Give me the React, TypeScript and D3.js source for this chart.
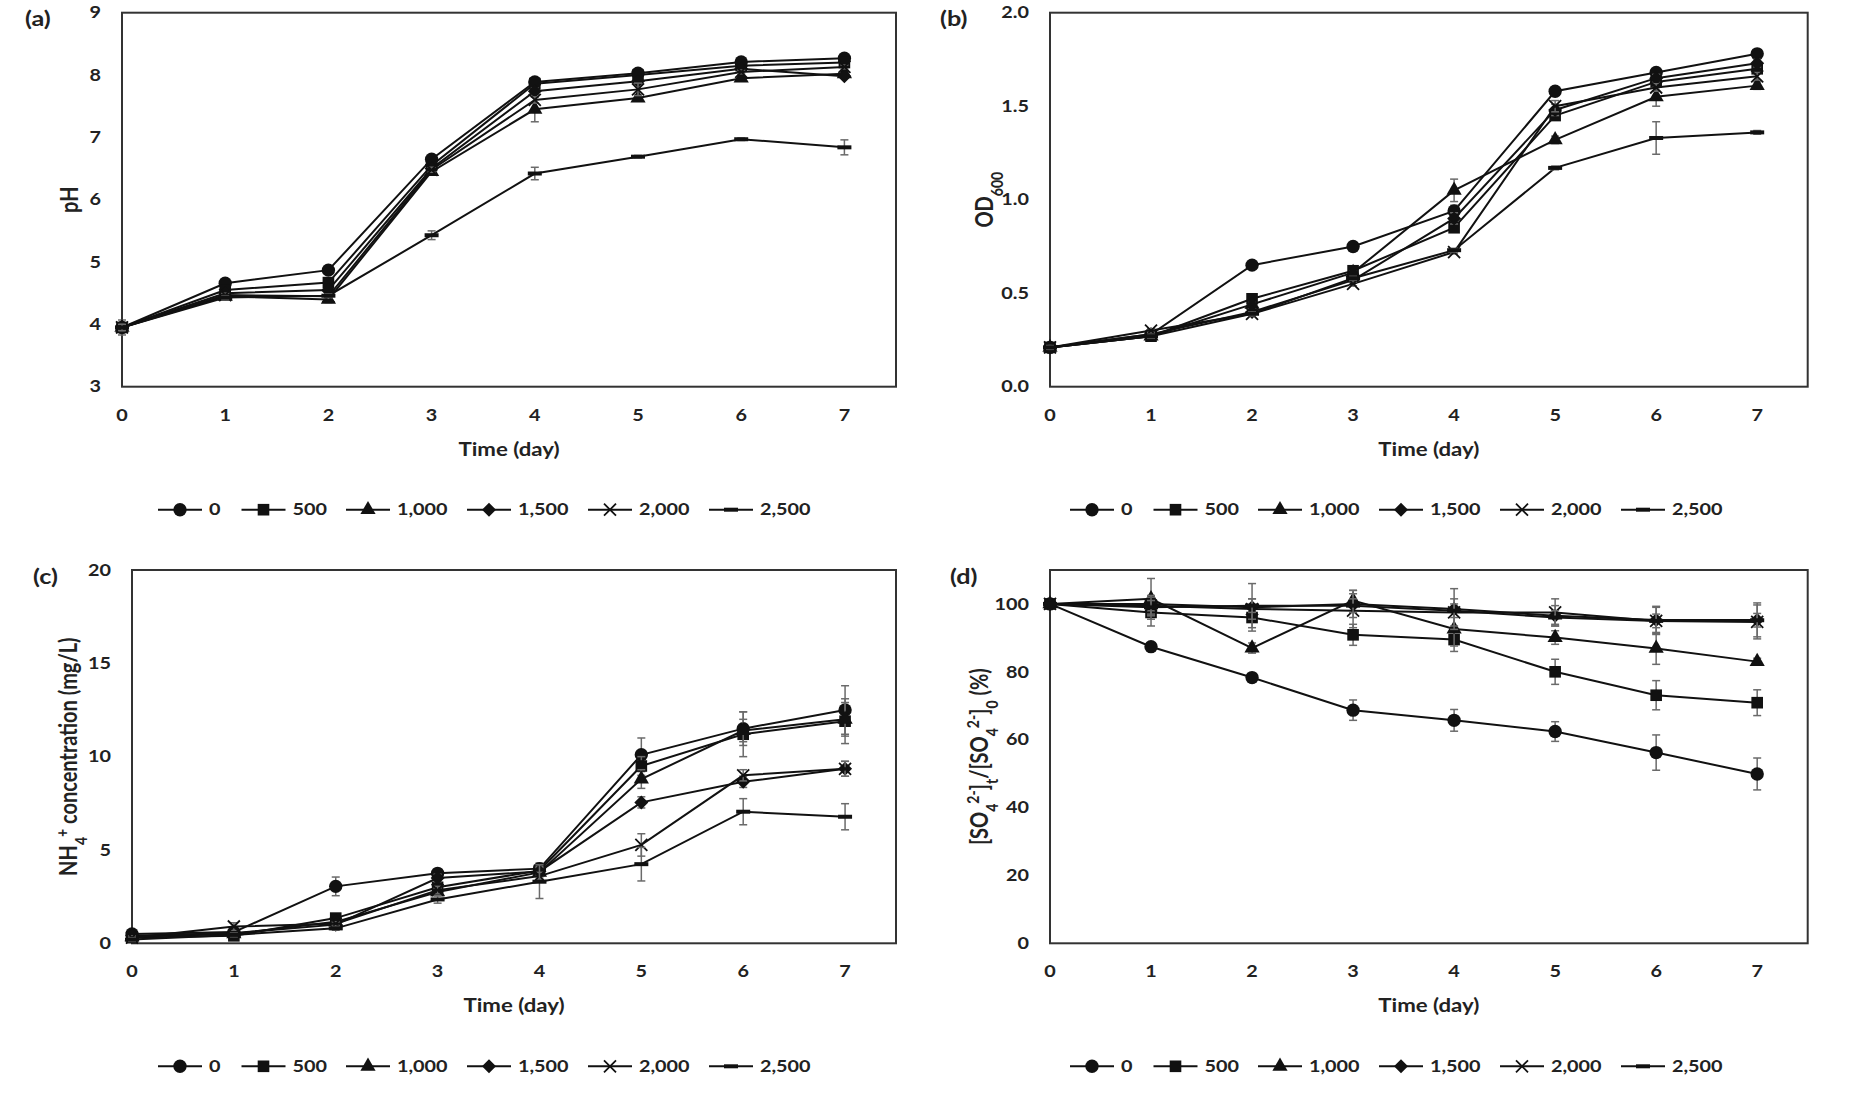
import React from 'react';
import * as d3 from 'd3';

// sampling days, shared by all four panels
const days = [0, 1, 2, 3, 4, 5, 6, 7];
const seriesNames = ['0', '500', '1,000', '1,500', '2,000', '2,500'];
const markerTypes = ['circle', 'square', 'triangle', 'diamond', 'x', 'dash'];

// (a) pH
const phValues = [
  [3.95, 4.66, 4.87, 6.65, 7.89, 8.03, 8.21, 8.27],
  [3.95, 4.55, 4.67, 6.55, 7.86, 8.0, 8.15, 8.2],
  [3.95, 4.45, 4.4, 6.45, 7.45, 7.63, 7.95, 8.02],
  [3.95, 4.5, 4.55, 6.5, 7.74, 7.9, 8.1, 7.98],
  [3.95, 4.47, 4.45, 6.48, 7.6, 7.77, 8.05, 8.13],
  [3.95, 4.43, 4.46, 5.43, 6.42, 6.69, 6.97, 6.84],
];
const phErrors = [
  [0.12, 0.03, 0.03, 0.04, 0.05, 0.03, 0.03, 0.04],
  [0.05, 0.03, 0.03, 0.04, 0.05, 0.03, 0.03, 0.03],
  [0.05, 0.03, 0.05, 0.05, 0.2, 0.05, 0.05, 0.03],
  [0.05, 0.03, 0.03, 0.04, 0.05, 0.03, 0.03, 0.03],
  [0.05, 0.03, 0.03, 0.04, 0.05, 0.1, 0.03, 0.03],
  [0.05, 0.03, 0.03, 0.07, 0.1, 0.02, 0.02, 0.12],
];

// (b) OD600
const odValues = [
  [0.21, 0.28, 0.65, 0.75, 0.94, 1.58, 1.68, 1.78],
  [0.21, 0.27, 0.47, 0.62, 0.85, 1.45, 1.63, 1.7],
  [0.21, 0.27, 0.44, 0.61, 1.05, 1.32, 1.55, 1.61],
  [0.21, 0.28, 0.4, 0.57, 0.9, 1.48, 1.65, 1.73],
  [0.21, 0.3, 0.39, 0.55, 0.72, 1.5, 1.6, 1.66],
  [0.21, 0.27, 0.39, 0.58, 0.73, 1.17, 1.33, 1.36],
];
const odErrors = [
  [0.01, 0.01, 0.01, 0.01, 0.03, 0.01, 0.02, 0.02],
  [0.01, 0.01, 0.01, 0.01, 0.02, 0.02, 0.02, 0.02],
  [0.01, 0.01, 0.01, 0.01, 0.06, 0.02, 0.05, 0.02],
  [0.01, 0.01, 0.01, 0.01, 0.03, 0.03, 0.02, 0.02],
  [0.01, 0.01, 0.01, 0.01, 0.01, 0.03, 0.02, 0.02],
  [0.01, 0.01, 0.01, 0.01, 0.01, 0.01, 0.087, 0.01],
];

// (c) NH4+ concentration, mg/L
const nhValues = [
  [0.5, 0.6, 3.05, 3.75, 4.0, 10.1, 11.5, 12.5],
  [0.3, 0.4, 1.35, 3.0, 3.9, 9.5, 11.2, 11.9],
  [0.35, 0.5, 1.15, 2.75, 3.8, 8.8, 11.4, 12.0],
  [0.4, 0.55, 1.0, 3.5, 3.85, 7.55, 8.65, 9.35],
  [0.3, 0.9, 1.05, 2.85, 3.6, 5.27, 9.0, 9.35],
  [0.2, 0.45, 0.8, 2.35, 3.3, 4.24, 7.05, 6.78],
];
const nhErrors = [
  [0.1, 0.1, 0.5, 0.2, 0.3, 0.9, 0.9, 1.3],
  [0.1, 0.1, 0.2, 0.2, 0.3, 0.5, 1.2, 1.2],
  [0.1, 0.1, 0.1, 0.2, 0.3, 0.5, 0.6, 0.9],
  [0.1, 0.1, 0.1, 0.2, 0.2, 0.3, 0.3, 0.4],
  [0.1, 0.2, 0.1, 0.2, 0.2, 0.6, 0.3, 0.4],
  [0.1, 0.1, 0.1, 0.2, 0.9, 0.9, 0.7, 0.7],
];

// (d) remaining sulfate, % of initial
const so4Values = [
  [100, 87.4, 78.3, 68.7, 65.7, 62.4, 56.2, 49.9],
  [100, 97.5, 96.0, 90.9, 89.5, 80.0, 73.1, 70.9],
  [100, 101.5, 87.0, 101.0, 92.6, 90.1, 86.9, 83.0],
  [100, 100.0, 99.0, 100.0, 98.5, 96.5, 95.3, 95.3],
  [100, 99.5, 98.5, 98.0, 97.5, 97.5, 95.0, 94.7],
  [100, 99.0, 99.5, 99.5, 98.0, 96.0, 95.0, 95.2],
];
const so4Errors = [
  [0, 1, 1, 3, 3.2, 2.9, 5.2, 4.7],
  [0, 4, 3, 3.1, 3.5, 3.7, 4.3, 3.8],
  [0, 6, 1.5, 3, 5, 2, 4.7, 1],
  [0, 2, 7, 4, 6, 3, 4, 5],
  [0, 3, 3, 5, 4, 4, 4, 5],
  [0, 2, 2, 2, 2, 2, 2, 2],
];

const phTicks = [3, 4, 5, 6, 7, 8, 9];
const odTicks = [0, 0.5, 1.0, 1.5, 2.0];
const nhTicks = [0, 5, 10, 15, 20];
const so4Ticks = [0, 20, 40, 60, 80, 100];

const FONT = 'Lato, "Open Sans", Arial, sans-serif';
const INK = '#222';
const LINE = '#111';
const STRETCH = 1.2;

const symbolGen = (type, size) => d3.symbol().type(type).size(size)();

function Marker({ type, x, y }) {
  const t = `translate(${x},${y})`;
  if (type === 'circle') return <path transform={t} d={symbolGen(d3.symbolCircle, 140)} fill={LINE} />;
  if (type === 'square') return <path transform={t} d={symbolGen(d3.symbolSquare, 135)} fill={LINE} />;
  if (type === 'triangle') return <path transform={t} d={symbolGen(d3.symbolTriangle, 100)} fill={LINE} />;
  if (type === 'diamond') return <path transform={t} d="M0,-7L7,0L0,7L-7,0Z" fill={LINE} />;
  if (type === 'x')
    return <path transform={t} d="M-6,-6L6,6M-6,6L6,-6" stroke={LINE} strokeWidth={1.8} fill="none" />;
  return <rect x={x - 7} y={y - 2} width={14} height={4} fill={LINE} />;
}

function HText({ x, y, anchor = 'middle', size = 16.5, children, dy = '0' }) {
  return (
    <text
      transform={`translate(${x},${y}) scale(${STRETCH},1)`}
      textAnchor={anchor}
      dy={dy}
      fontFamily={FONT}
      fontWeight="bold"
      fontSize={size}
      fill={INK}
    >
      {children}
    </text>
  );
}

function VText({ x, y, size = 20, children }) {
  return (
    <text
      transform={`translate(${x},${y}) rotate(-90) scale(1,${STRETCH})`}
      textAnchor="middle"
      dy="0.35em"
      fontFamily={FONT}
      fontWeight="bold"
      fontSize={size}
      fill={INK}
    >
      {children}
    </text>
  );
}

function legendOffsets() {
  let acc = 0;
  return seriesNames.map((name) => {
    const start = acc;
    const digits = name.replace(/,/g, '').length;
    const commas = name.length - digits;
    acc += 52 + digits * 10.5 + commas * 6 + 21;
    return start;
  });
}

function Legend({ x, y }) {
  const offs = legendOffsets();
  return (
    <g>
      {seriesNames.map((name, i) => (
        <g key={name}>
          <line x1={x + offs[i]} x2={x + offs[i] + 44} y1={y} y2={y} stroke={LINE} strokeWidth={2} />
          <Marker type={markerTypes[i]} x={x + offs[i] + 22} y={y} />
          <HText x={x + offs[i] + 51} y={y} anchor="start" dy="0.35em">
            {name}
          </HText>
        </g>
      ))}
    </g>
  );
}

function Panel({ left, right, top, bottom, yDomain, yTicks, yFormat, values, errors, tag, tagX, tagY, title, titleX, legendX }) {
  const x = d3.scaleLinear().domain([0, 7.5]).range([left, right]);
  const y = d3.scaleLinear().domain(yDomain).range([bottom, top]);
  const line = d3
    .line()
    .x((_, i) => x(days[i]))
    .y((v) => y(v));
  const midY = (top + bottom) / 2;

  return (
    <g>
      <rect x={left} y={top} width={right - left} height={bottom - top} fill="#fff" stroke="#333" strokeWidth={2} />

      {values.map((vals, s) => (
        <g key={s}>
          <path d={line(vals)} fill="none" stroke={LINE} strokeWidth={2} />
          {vals.map((v, i) => {
            const e = errors[s][i];
            if (!e) return null;
            const cx = x(days[i]);
            return (
              <g key={i} stroke="#6a6a6a" strokeWidth={1.5}>
                <line x1={cx} x2={cx} y1={y(v - e)} y2={y(v + e)} />
                <line x1={cx - 4} x2={cx + 4} y1={y(v - e)} y2={y(v - e)} />
                <line x1={cx - 4} x2={cx + 4} y1={y(v + e)} y2={y(v + e)} />
              </g>
            );
          })}
          {vals.map((v, i) => (
            <Marker key={i} type={markerTypes[s]} x={x(days[i])} y={y(v)} />
          ))}
        </g>
      ))}

      {days.map((d) => (
        <HText key={d} x={x(d)} y={bottom + 34}>
          {d}
        </HText>
      ))}
      {yTicks.map((t) => (
        <HText key={t} x={left - 21} y={y(t)} anchor="end" dy="0.35em">
          {yFormat(t)}
        </HText>
      ))}

      <HText x={(left + right) / 2} y={bottom + 69} size={18.5}>
        Time (day)
      </HText>
      <VText x={titleX} y={midY}>
        {title}
      </VText>
      <HText x={tagX} y={tagY} anchor="start" size={21}>
        {tag}
      </HText>
      <Legend x={legendX} y={bottom + 123} />
    </g>
  );
}

const sub = (s) => (
  <tspan baselineShift="sub" fontSize="70%">
    {s}
  </tspan>
);
const sup = (s) => (
  <tspan baselineShift="super" fontSize="70%">
    {s}
  </tspan>
);

export default function App() {
  const intFmt = d3.format('d');
  const oneDec = d3.format('.1f');
  return (
    <svg
      width={1850}
      height={1101}
      style={{ position: 'absolute', left: 0, top: 0, background: '#fff' }}
    >
      <rect width={1850} height={1101} fill="#fff" />
      <Panel
        left={122} right={896} top={12.7} bottom={386.7}
        yDomain={[3, 9]} yTicks={phTicks} yFormat={intFmt}
        values={phValues} errors={phErrors}
        tag="(a)" tagX={25} tagY={26}
        title="pH" titleX={70}
        legendX={158}
      />
      <Panel
        left={1050} right={1807.7} top={12.7} bottom={386.7}
        yDomain={[0, 2]} yTicks={odTicks} yFormat={oneDec}
        values={odValues} errors={odErrors}
        tag="(b)" tagX={940} tagY={26}
        title={<>OD{sub('600')}</>} titleX={985}
        legendX={1070}
      />
      <Panel
        left={132} right={896} top={570} bottom={943.3}
        yDomain={[0, 20]} yTicks={nhTicks} yFormat={intFmt}
        values={nhValues} errors={nhErrors}
        tag="(c)" tagX={33} tagY={584}
        title={<>NH{sub('4')}{sup('+')} concentration (mg/L)</>} titleX={69}
        legendX={158}
      />
      <Panel
        left={1050} right={1807.7} top={570} bottom={943.3}
        yDomain={[0, 110]} yTicks={so4Ticks} yFormat={intFmt}
        values={so4Values} errors={so4Errors}
        tag="(d)" tagX={950} tagY={584}
        title={<>[SO{sub('4')}{sup('2-')}]{sub('t')}/[SO{sub('4')}{sup('2-')}]{sub('0')} (%)</>} titleX={980}
        legendX={1070}
      />
    </svg>
  );
}
